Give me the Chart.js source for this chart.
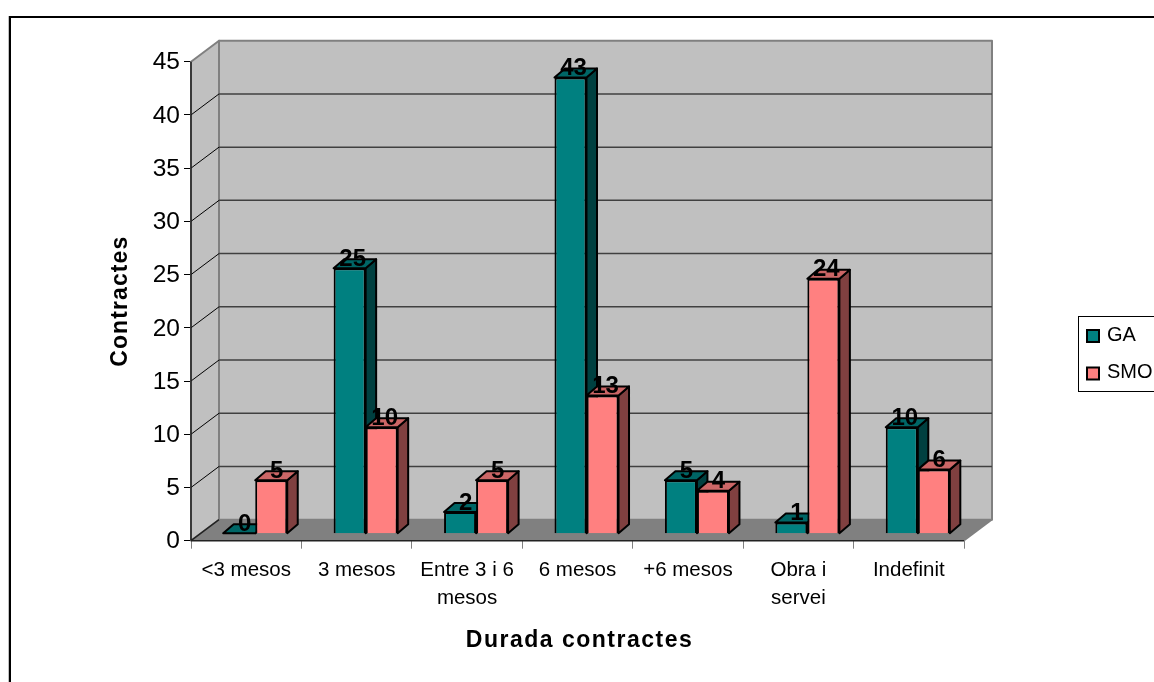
<!DOCTYPE html>
<html>
<head>
<meta charset="utf-8">
<style>
  html, body { margin: 0; padding: 0; background: #fff; overflow: hidden; }
  canvas { display: block; }
</style>
<script src="https://cdn.jsdelivr.net/npm/chart.js@4"></script>
</head>
<body>
<canvas id="chart" width="1154" height="682"></canvas>
<script>
const categories = ['<3 mesos', '3 mesos', ['Entre 3 i 6', 'mesos'], '6 mesos', '+6 mesos', ['Obra i', 'servei'], 'Indefinit'];
const gaValues = [0, 25, 2, 43, 5, 1, 10];
const smoValues = [5, 10, 5, 13, 4, 24, 6];

const fontFamily = '"Liberation Sans", Arial, sans-serif';

// Colours of the faces of each series: front, top, side
const faces = [
  { front: '#008080', top: '#006666', side: '#004040' },
  { front: '#FF8080', top: '#CC6666', side: '#804040' }
];

// Offsets of the fake 3D box
const wallDx = 28;
const wallDy = -21;
const barDx = 9;
const barDy = -7.5;
const depthDx = 10.5;
const depthDy = -9;

function drawPoly(ctx, pts, fill, stroke, lineWidth) {
  ctx.beginPath();
  pts.forEach((p, i) => (i ? ctx.lineTo(p[0], p[1]) : ctx.moveTo(p[0], p[1])));
  ctx.closePath();
  if (fill) {
    ctx.fillStyle = fill;
    ctx.fill();
  }
  if (stroke) {
    ctx.strokeStyle = stroke;
    ctx.lineWidth = lineWidth;
    ctx.lineJoin = 'round';
    ctx.stroke();
  }
}

// Chart.js has no option for spacing in a title, so wrap the scale's own title drawing
function spaceTitle(scale, spacing, dx) {
  if (scale.spacedTitle) return;
  scale.spacedTitle = true;
  const drawTitle = scale.drawTitle;
  scale.drawTitle = function () {
    const ctx = this.ctx;
    ctx.save();
    ctx.letterSpacing = spacing;
    ctx.translate(dx, 0);
    drawTitle.call(this);
    ctx.restore();
  };
}

function drawWalls(chart) {
  const { ctx, chartArea: a, scales: { y } } = chart;
  ctx.save();
  // Back and side wall
  drawPoly(ctx, [[a.left + wallDx, a.top + wallDy], [a.right + wallDx, a.top + wallDy], [a.right + wallDx, a.bottom + wallDy], [a.left + wallDx, a.bottom + wallDy]], '#C0C0C0', '#808080', 2);
  drawPoly(ctx, [[a.left, a.top], [a.left + wallDx, a.top + wallDy], [a.left + wallDx, a.bottom + wallDy], [a.left, a.bottom]], '#C0C0C0', '#808080', 2);
  // Gridlines follow the wall
  y.ticks.forEach(t => {
    if (t.value === 0 || t.value === y.max) return;
    const py = y.getPixelForValue(t.value);
    ctx.beginPath();
    ctx.moveTo(a.left, py);
    ctx.lineTo(a.left + wallDx, py + wallDy);
    ctx.strokeStyle = '#000';
    ctx.lineWidth = 1;
    ctx.stroke();
    ctx.beginPath();
    ctx.moveTo(a.left + wallDx, py + wallDy);
    ctx.lineTo(a.right + wallDx, py + wallDy);
    ctx.strokeStyle = '#404040';
    ctx.lineWidth = 1.5;
    ctx.stroke();
  });
  // Floor
  drawPoly(ctx, [[a.left, a.bottom], [a.left + wallDx, a.bottom + wallDy], [a.right + wallDx, a.bottom + wallDy], [a.right, a.bottom]], '#808080', null, 0);
  ctx.beginPath();
  ctx.moveTo(a.right, a.bottom);
  ctx.lineTo(a.right + wallDx, a.bottom + wallDy);
  ctx.strokeStyle = '#808080';
  ctx.lineWidth = 1.5;
  ctx.stroke();
  ctx.beginPath();
  ctx.moveTo(a.left, a.top);
  ctx.lineTo(a.left, a.bottom);
  ctx.moveTo(a.left, a.bottom);
  ctx.lineTo(a.left + wallDx, a.bottom + wallDy);
  ctx.moveTo(a.left, a.bottom);
  ctx.lineTo(a.right, a.bottom);
  ctx.strokeStyle = '#222';
  ctx.lineWidth = 1.5;
  ctx.stroke();
  ctx.restore();
}

const box3d = {
  id: 'box3d',
  beforeDatasetsDraw(chart) {
    const { ctx } = chart;
    drawWalls(chart);

    // The library paints the last dataset first, here GA has to go under SMO
    chart.data.datasets.forEach((ds, i) => {
      const meta = chart.getDatasetMeta(i);
      const colors = faces[i];
      ctx.save();
      ctx.translate(barDx, barDy);
      meta.data.forEach(bar => {
        const left = bar.x - bar.width / 2;
        const right = bar.x + bar.width / 2;
        const top = bar.y;
        const base = bar.base;
        drawPoly(ctx, [[right, top], [right + depthDx, top + depthDy], [right + depthDx, base + depthDy], [right, base]], colors.side, '#000', 2);
        drawPoly(ctx, [[left, top], [left + depthDx, top + depthDy], [right + depthDx, top + depthDy], [right, top]], colors.top, '#000', 2);
      });
      meta.controller.draw();
      ctx.restore();
    });

    // Value labels
    ctx.save();
    ctx.font = 'bold 24px ' + fontFamily;
    ctx.fillStyle = '#000';
    ctx.textAlign = 'center';
    ctx.textBaseline = 'middle';
    chart.data.datasets.forEach((ds, i) => {
      chart.getDatasetMeta(i).data.forEach((bar, j) => {
        const shift = ds.data[j] < 10 ? 5.5 : 3;
        ctx.fillText(ds.data[j], bar.x + barDx + shift, bar.y + barDy - 9);
      });
    });
    ctx.restore();
    return false;
  },
  afterDraw(chart) {
    const { ctx, width, height } = chart;
    ctx.save();
    // Outer frame, cut by the picture on the right and the bottom
    ctx.fillStyle = '#C0C0C0';
    ctx.fillRect(8, 16, 1, height);
    ctx.strokeStyle = '#000';
    ctx.lineWidth = 2;
    ctx.strokeRect(10, 17, width + 20, height + 20);
    // Legend
    ctx.lineWidth = 1;
    ctx.strokeRect(1078.5, 316.5, width, 75);
    ctx.font = '20px ' + fontFamily;
    ctx.textAlign = 'left';
    ctx.textBaseline = 'middle';
    chart.data.datasets.forEach((ds, i) => {
      const cy = 335 + i * 37.5;
      ctx.fillStyle = ds.backgroundColor;
      ctx.strokeStyle = '#000';
      ctx.lineWidth = 2;
      ctx.fillRect(1087, cy - 5, 12, 12);
      ctx.strokeRect(1087, cy - 5, 12, 12);
      ctx.fillStyle = '#000';
      ctx.fillText(ds.label, 1107, cy);
    });
    ctx.restore();
  }
};

new Chart(document.getElementById('chart'), {
  type: 'bar',
  data: {
    labels: categories,
    datasets: [
      { label: 'GA', data: gaValues, yAxisID: 'yBars', backgroundColor: faces[0].front, borderColor: '#000', borderWidth: 2, categoryPercentage: 0.58, barPercentage: 1 },
      { label: 'SMO', data: smoValues, yAxisID: 'yBars', backgroundColor: faces[1].front, borderColor: '#000', borderWidth: 2, categoryPercentage: 0.58, barPercentage: 1 }
    ]
  },
  options: {
    responsive: false,
    animation: false,
    layout: { padding: { left: 0, top: 61.7, right: 190, bottom: 0 } },
    plugins: {
      legend: { display: false },
      tooltip: { enabled: false }
    },
    scales: {
      x: {
        afterFit: scale => {
          scale.height = 141.3;
          spaceTitle(scale, '1.5px', 2);
        },
        grid: { drawOnChartArea: false, color: '#808080', tickLength: 8, offset: true },
        border: { display: false },
        ticks: { color: '#000', font: { family: fontFamily, size: 20.5, lineHeight: 1.4 }, maxRotation: 0, autoSkip: false, padding: 7 },
        title: {
          display: true,
          text: 'Durada contractes',
          color: '#000',
          font: { family: fontFamily, size: 23, weight: 'bold' },
          padding: { top: 0, bottom: 28 }
        }
      },
      y: {
        min: 0,
        max: 45,
        afterFit: scale => {
          scale.width = 191;
          spaceTitle(scale, '1.1px', 0);
        },
        grid: { drawOnChartArea: false, color: '#000', tickLength: 7 },
        border: { display: false },
        ticks: { stepSize: 5, color: '#000', font: { family: fontFamily, size: 24.5 }, padding: 4, labelOffset: 1 },
        title: {
          display: true,
          text: 'Contractes',
          color: '#000',
          font: { family: fontFamily, size: 23, weight: 'bold' },
          padding: { top: 107, bottom: 0 }
        }
      },
      // Bars stand further back in the box, so their unit is a little shorter than the axis
      yBars: { display: false, min: 0, max: 45.2 }
    }
  },
  plugins: [box3d]
});
</script>
</body>
</html>
